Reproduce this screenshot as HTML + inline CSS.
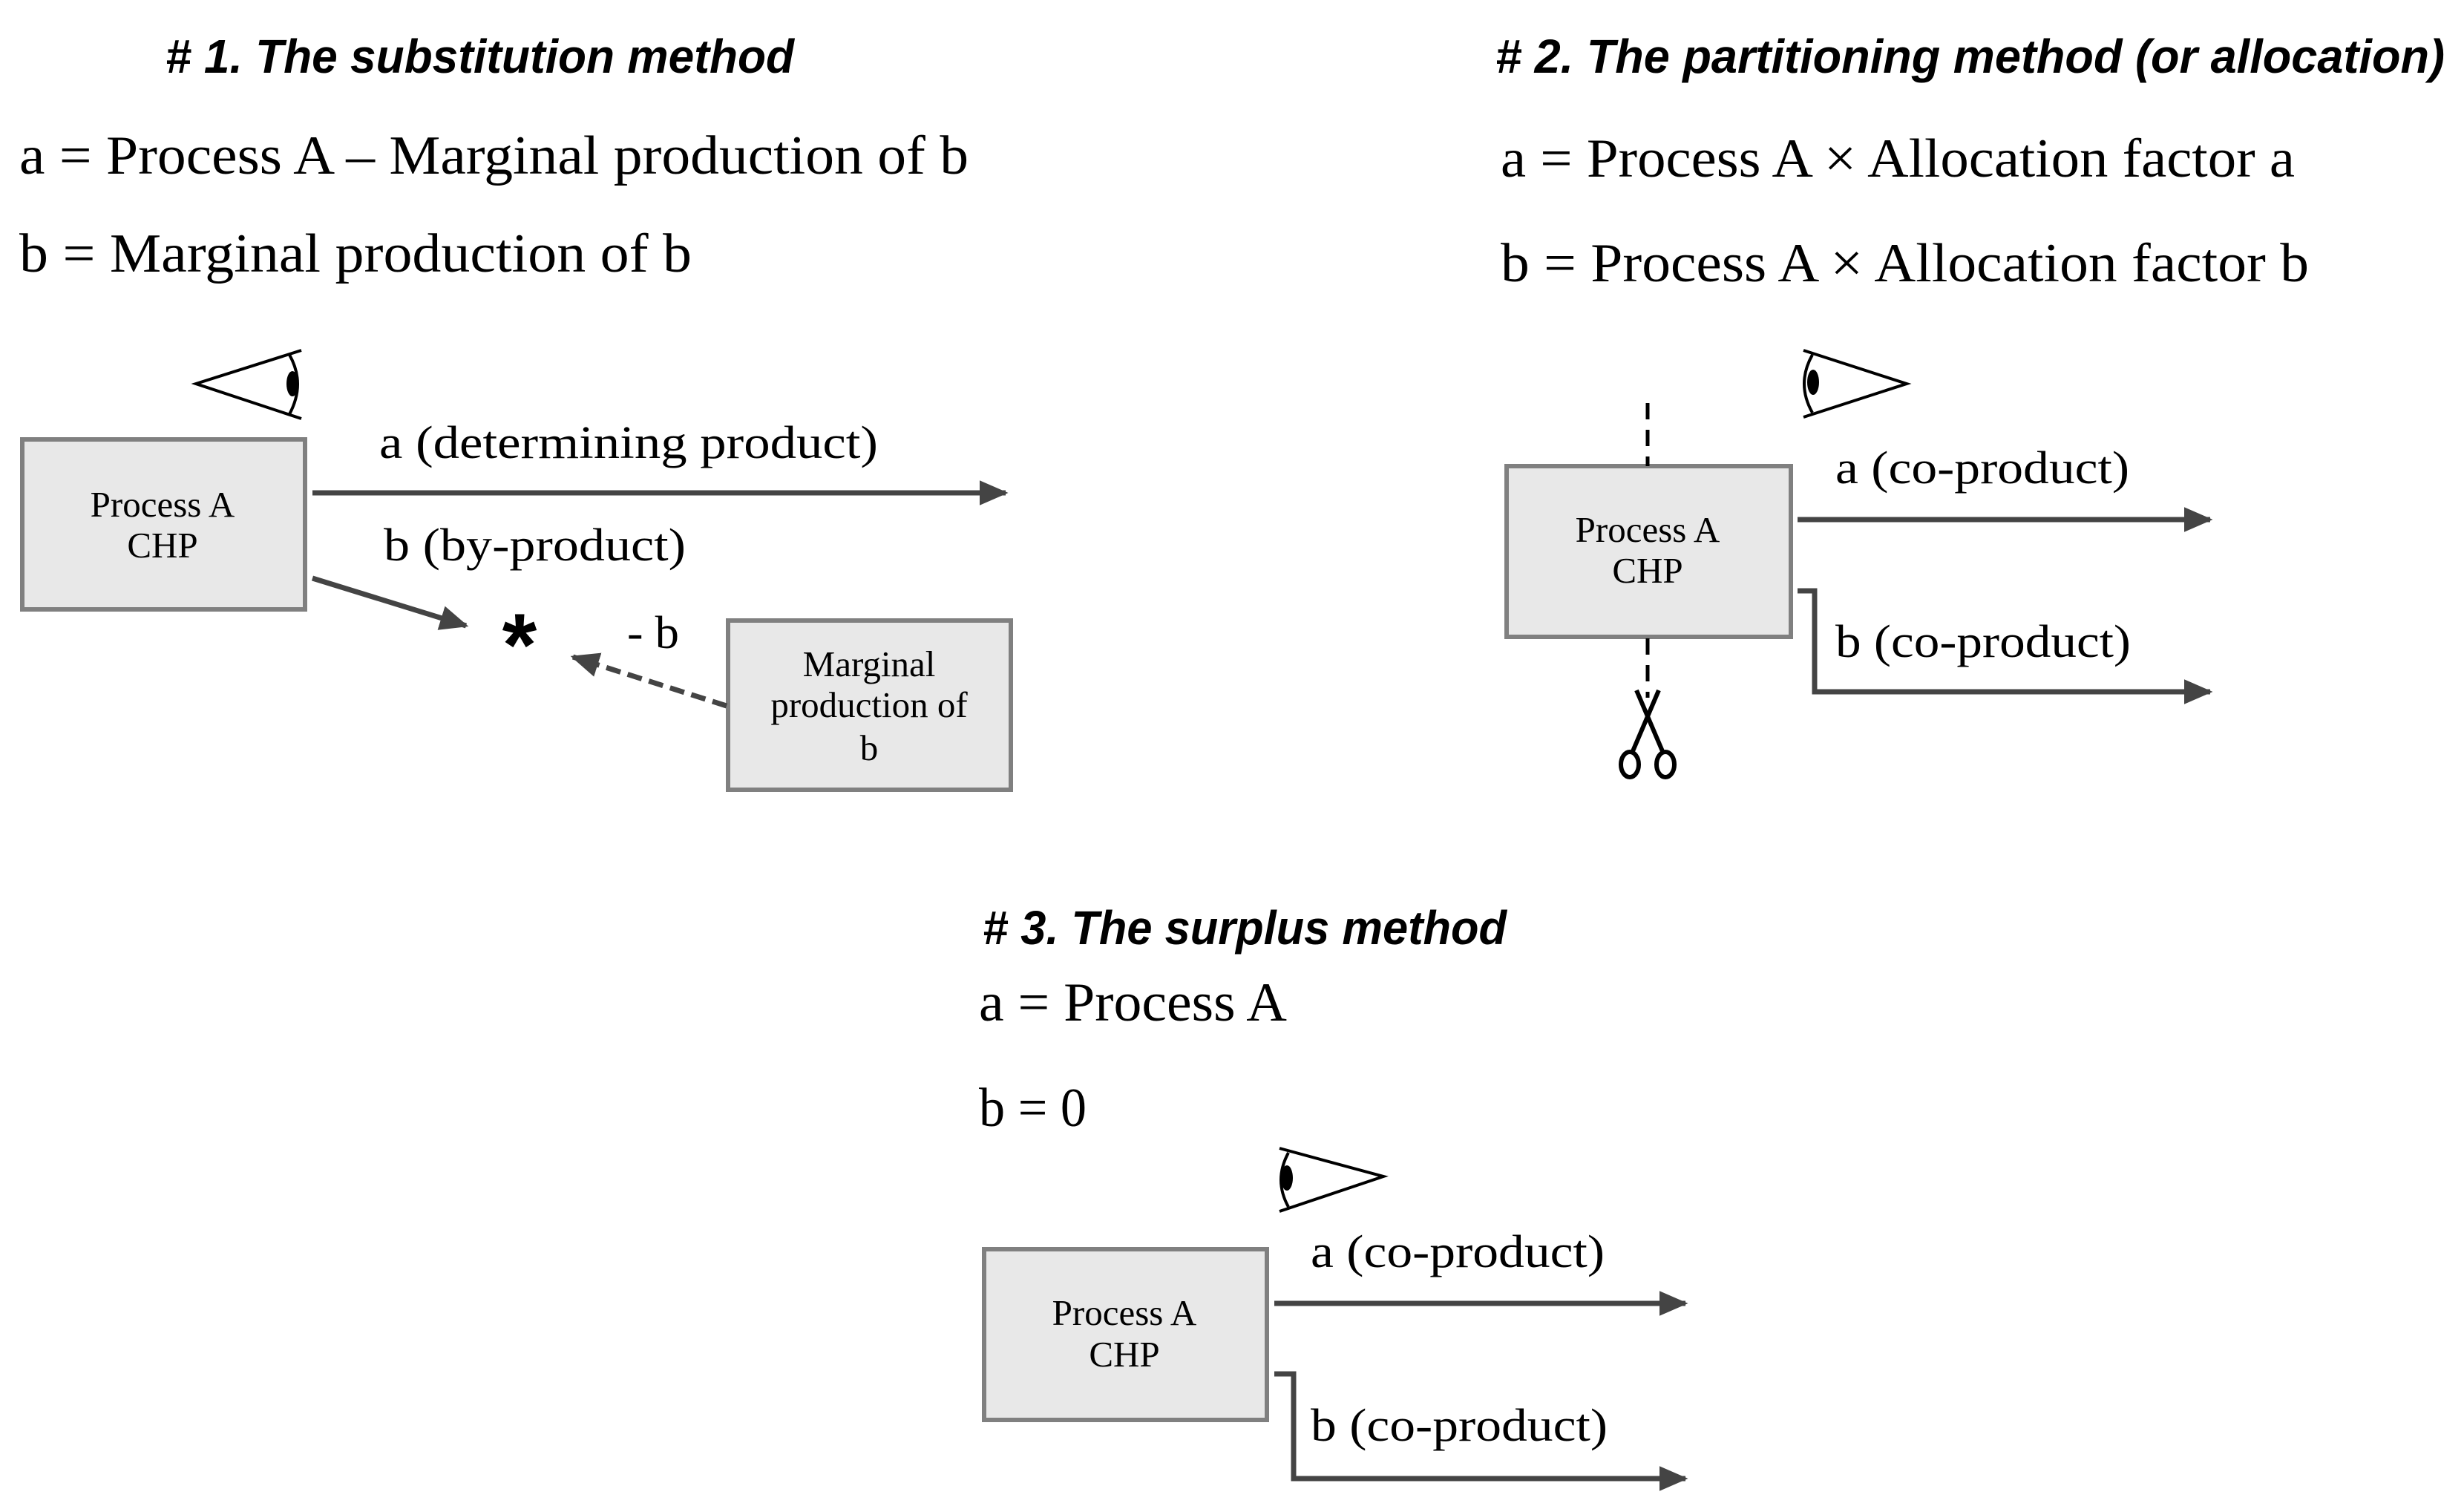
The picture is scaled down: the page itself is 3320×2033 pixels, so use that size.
<!DOCTYPE html>
<html><head><meta charset="utf-8"><style>html,body{margin:0;padding:0;background:#fff}svg{display:block}</style></head>
<body>
<svg width="3320" height="2033" viewBox="0 0 3320 2033" xmlns="http://www.w3.org/2000/svg">
<defs>
<marker id="ah" markerWidth="6" markerHeight="6" refX="5" refY="3" orient="auto" markerUnits="strokeWidth">
<path d="M0,0.6 L5.5,3 L0,5.4 Z" fill="#444"/></marker>
</defs>
<g font-family="Liberation Sans, sans-serif" font-weight="bold" font-style="italic" font-size="64" fill="#000">
<text x="223" y="98" textLength="847" lengthAdjust="spacingAndGlyphs"># 1. The substitution method</text>
<text x="2015" y="98" textLength="1279" lengthAdjust="spacingAndGlyphs"># 2. The partitioning method (or allocation)</text>
<text x="1324" y="1272" textLength="706" lengthAdjust="spacingAndGlyphs"># 3. The surplus method</text>
</g>
<g font-family="Liberation Serif, serif" font-size="74" fill="#000">
<text x="26" y="234" textLength="1279" lengthAdjust="spacingAndGlyphs">a = Process A – Marginal production of b</text>
<text x="26" y="366" textLength="906" lengthAdjust="spacingAndGlyphs">b = Marginal production of b</text>
<text x="2022" y="238" textLength="1070" lengthAdjust="spacingAndGlyphs">a = Process A × Allocation factor a</text>
<text x="2022" y="379" textLength="1089" lengthAdjust="spacingAndGlyphs">b = Process A × Allocation factor b</text>
<text x="1319" y="1375" textLength="415" lengthAdjust="spacingAndGlyphs">a = Process A</text>
<text x="1319" y="1517" textLength="145" lengthAdjust="spacingAndGlyphs">b = 0</text>
</g>
<g font-family="Liberation Serif, serif" font-size="62" fill="#000">
<text x="511" y="617" textLength="672" lengthAdjust="spacingAndGlyphs">a (determining product)</text>
<text x="517" y="755" textLength="407" lengthAdjust="spacingAndGlyphs">b (by-product)</text>
<text x="845" y="873" textLength="70" lengthAdjust="spacingAndGlyphs">- b</text>
<text x="2473" y="651" textLength="396" lengthAdjust="spacingAndGlyphs">a (co-product)</text>
<text x="2473" y="885" textLength="398" lengthAdjust="spacingAndGlyphs">b (co-product)</text>
<text x="1766" y="1707" textLength="396" lengthAdjust="spacingAndGlyphs">a (co-product)</text>
<text x="1766" y="1941" textLength="400" lengthAdjust="spacingAndGlyphs">b (co-product)</text>
</g>
<text x="700" y="910" font-family="Liberation Sans, sans-serif" font-weight="bold" font-size="120" text-anchor="middle">*</text>
<g fill="#e8e8e8" stroke="#808080" stroke-width="6">
<rect x="30" y="592" width="381" height="229"/>
<rect x="981" y="836" width="381" height="228"/>
<rect x="2030" y="628" width="383" height="230"/>
<rect x="1326" y="1683" width="381" height="230"/>
</g>
<g font-family="Liberation Serif, serif" font-size="49" fill="#000" text-anchor="middle">
<text x="219" y="696">Process A</text><text x="219" y="751">CHP</text>
<text x="1171" y="911">Marginal</text><text x="1171" y="966">production of</text><text x="1171" y="1024">b</text>
<text x="2220" y="730">Process A</text><text x="2220" y="785">CHP</text>
<text x="1515" y="1785">Process A</text><text x="1515" y="1841">CHP</text>
</g>
<g stroke="#444" stroke-width="7" fill="none" marker-end="url(#ah)">
<line x1="421" y1="664" x2="1355" y2="664"/>
<line x1="421" y1="779" x2="628" y2="843"/>
<line x1="979" y1="951" x2="772" y2="885" stroke-dasharray="20,10"/>
<line x1="2422" y1="700" x2="2978" y2="700"/>
<polyline points="2422,796 2445,796 2445,932 2978,932"/>
<line x1="1717" y1="1756" x2="2271" y2="1756"/>
<polyline points="1717,1851 1743,1851 1743,1992 2271,1992"/>
</g>
<g stroke="#000" stroke-width="5" stroke-dasharray="22,14">
<line x1="2220" y1="543" x2="2220" y2="628"/>
<line x1="2220" y1="860" x2="2220" y2="940"/>
</g>
<g stroke="#000" fill="none" stroke-width="6">
<path d="M2205,930 L2240,1012"/>
<path d="M2235,930 L2200,1012"/>
<ellipse cx="2196" cy="1030" rx="12" ry="17"/>
<ellipse cx="2244" cy="1030" rx="12" ry="17"/>
</g>
<g stroke="#000" stroke-width="4" fill="none">
<polyline points="406,472 264,517 406,564"/>
<path d="M390,478 Q412,517 390,558"/>
<polyline points="2430,472 2569,517 2430,562"/>
<path d="M2442,478 Q2420,517 2442,556"/>
<polyline points="1724,1547 1864,1585 1724,1632"/>
<path d="M1736,1553 Q1716,1590 1736,1626"/>
</g>
<g fill="#000">
<ellipse cx="394" cy="517" rx="8" ry="17"/>
<ellipse cx="2443" cy="515" rx="8" ry="17"/>
<ellipse cx="1734" cy="1587" rx="8" ry="17"/>
</g>
</svg>
</body></html>
